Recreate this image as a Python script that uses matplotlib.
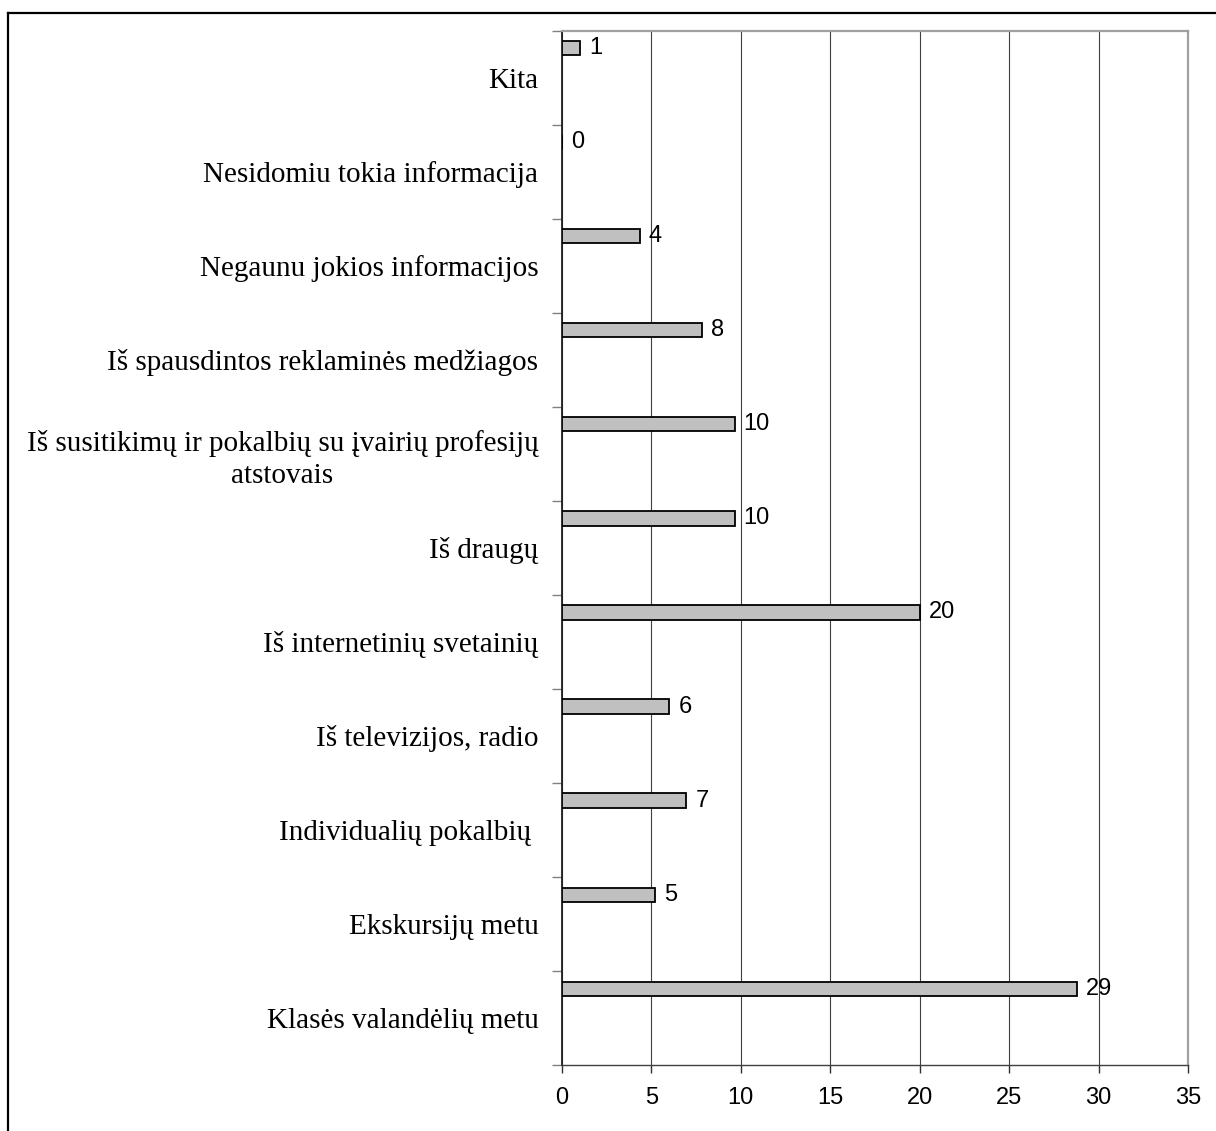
import matplotlib
matplotlib.use("Agg")
from matplotlib import pyplot as plt
from matplotlib.lines import Line2D
import numpy as np

##-----------------------------------------------------------------------------
## data (top to bottom as in the chart)

categories = [
    "Kita",
    "Nesidomiu tokia informacija",
    "Negaunu jokios informacijos",
    "Iš spausdintos reklaminės medžiagos",
    "Iš susitikimų ir pokalbių su įvairių profesijų\natstovais",
    "Iš draugų",
    "Iš internetinių svetainių",
    "Iš televizijos, radio",
    "Individualių pokalbių ",
    "Ekskursijų metu",
    "Klasės valandėlių metu",
]
values = [1.0, 0.0, 4.35, 7.85, 9.65, 9.65, 20.0, 6.0, 6.95, 5.2, 28.8]
value_labels = ["1", "0", "4", "8", "10", "10", "20", "6", "7", "5", "29"]
x_ticks = [0, 5, 10, 15, 20, 25, 30, 35]

##-----------------------------------------------------------------------------

W, H = 1216, 1131
fig = plt.figure(figsize=(W / 100, H / 100), dpi=100)
ax = fig.add_axes([562 / W, 1 - 1065 / H, (1188 - 562) / W, (1065 - 30.7) / H])

pos = np.arange(len(categories))
bars = ax.barh(pos - 0.3125, values, height=0.15, color="#c0c0c0",
               edgecolor="black", linewidth=1.3, zorder=3)
ax.bar_label(bars, labels=value_labels, padding=6.5,
             fontsize=17, family="Liberation Sans", zorder=4)

ax.set_xlim(0, 35)
ax.set_ylim(len(categories) - 0.5, -0.5)

ax.set_xticks(x_ticks)
ax.set_xticklabels([str(t) for t in x_ticks], family="Liberation Sans", fontsize=17)
ax.tick_params(axis="x", length=6, width=1, color="#303030", pad=10)

# category boundaries as major ticks, names at band centres as minor ticks
ax.set_yticks(np.arange(len(categories) + 1) - 0.5)
ax.set_yticklabels([])
ax.tick_params(axis="y", which="major", length=7, width=1, color="#808080")
ax.set_yticks(pos, minor=True)
ax.set_yticklabels(categories, minor=True, family="Liberation Serif",
                   fontsize=21, multialignment="center", linespacing=1.3)
ax.tick_params(axis="y", which="minor", length=0, pad=17)

ax.grid(axis="x", color="#404040", linewidth=0.8, zorder=0)
ax.set_axisbelow(True)

ax.spines["left"].set_color("#202020")
ax.spines["left"].set_linewidth(1.3)
ax.spines["bottom"].set_color("#404040")
ax.spines["bottom"].set_linewidth(1.0)
for s in ("top", "right"):
    ax.spines[s].set_color("#a0a0a0")
    ax.spines[s].set_linewidth(1.6)

# outer frame (only top and left edge fall inside the picture)
fig.add_artist(Line2D([8 / W, 8 / W], [0, 1 - 13 / H], color="black", linewidth=1.6))
fig.add_artist(Line2D([8 / W, 1], [1 - 13 / H, 1 - 13 / H], color="black", linewidth=1.6))

fig.savefig("out.png", dpi=100)
